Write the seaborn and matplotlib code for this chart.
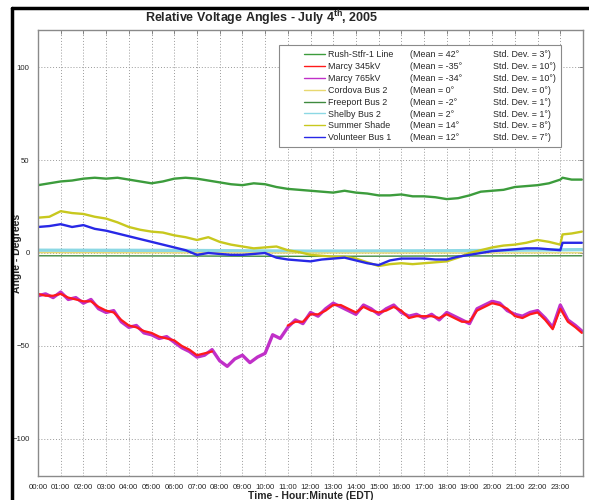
#%%
# libraries
import numpy as np
import pandas as pd
import matplotlib.pyplot as plt
import seaborn as sns
from matplotlib.lines import Line2D
from matplotlib.legend_handler import HandlerLine2D

#%%
# data (hours since midnight, angle in degrees)
hours = np.r_[np.arange(0, 23.5, 0.5), 23.1, 23.5, 23.95]

rush_stfr = [36.5, 37.5, 38.5, 39, 40, 40.5, 40, 40.5, 39.5, 38.5, 37.5, 38.5,
             40, 40.5, 40, 39, 38, 37, 36.5, 37.5, 37, 35.5, 34.5, 34,
             33.5, 33, 32.5, 33.5, 32.5, 32, 31, 31, 31.5, 30.5, 30.5, 30,
             29, 29.5, 31, 33, 33.5, 34, 35.5, 36, 36.5, 37.5, 39.5,
             40.5, 39.5, 39.5]
summer_shade = [19, 19.5, 22.5, 21.5, 21, 19.5, 18.5, 16.5, 14, 12.5, 11.5, 11,
                9.5, 8.5, 7, 8.5, 6, 4.5, 3.5, 2.5, 3, 3.5, 1.5, 0.5,
                -1, -1.5, -2, -2, -3, -5, -7, -6, -5.5, -6, -5.5, -5,
                -4.5, -2.5, 0, 1.5, 3, 4, 4.5, 5.5, 7, 6, 4.5,
                10, 10.5, 11.5]
volunteer = [14, 14.5, 15.5, 14, 15, 13, 12, 10.5, 9, 7.5, 6, 4.5,
             3, 1.5, -1, 0, -0.5, -1, -1, -0.5, 0, -2.5, -3.5, -4,
             -4.5, -3.5, -3, -2.5, -4, -5.5, -6.5, -4, -3, -3, -3, -3.5,
             -3.5, -2, -1, 0, 1, 1.5, 2, 2.5, 2.5, 2, 1.5,
             5.5, 5.5, 5.5]

flat_hours = [0, 6, 12, 18, 23.95]
cordova = [0.2, 0.1, 0.0, 0.0, 0.1]
freeport = [-1.5, -1.6, -1.8, -1.6, -1.5]
shelby = [1.5, 1.4, 1.0, 1.2, 1.8]

hours_marcy = np.r_[np.arange(72) / 3, 23.95]
marcy_765 = [-23, -22, -24, -21, -25, -24, -27, -25, -30, -32, -31, -37,
             -40, -39, -43, -44, -46, -45, -48, -51, -53, -56, -55, -52,
             -58, -61, -57, -55, -59, -56, -54, -44, -46, -40, -36, -38,
             -32, -34, -30, -27, -29, -31, -33, -28, -30, -33, -30, -28,
             -32, -34, -33, -35, -33, -36, -32, -34, -36, -38, -30, -28,
             -26, -27, -31, -33, -34, -32, -31, -35, -40, -28, -36, -39,
             -42]
marcy_345 = [-22, -23, -23, -22, -24, -25, -26, -26, -29, -31, -32, -36,
             -39, -40, -42, -43, -45, -46, -47, -50, -52, -55, -54, -53,
             np.nan, np.nan, np.nan, np.nan, np.nan, np.nan, np.nan, np.nan, np.nan,
             -39, -37, -37,
             -33, -33, -31, -28, -28, -30, -32, -29, -31, -32, -31, -29,
             -31, -35, -34, -34, -34, -35, -33, -35, -37, -37, -31, -29,
             -27, -28, -30, -34, -35, -33, -32, -36, -41, -30, -37, -40,
             -43]

names = ['Rush-Stfr-1 Line', 'Marcy 345kV', 'Marcy 765kV', 'Cordova Bus 2',
         'Freeport Bus 2', 'Shelby Bus 2', 'Summer Shade', 'Volunteer Bus 1']
means = [42, -35, -34, 0, -2, 2, 14, 12]
stds = [3, 10, 10, 0, 1, 1, 8, 7]
colors = ['#3c9c3c', '#ff1a1a', '#c030c8', '#e8d870', '#3f8a3f', '#8cd8e4',
          '#c8c81e', '#2828e6']
hour_labels = [f'{h:02d}:00' for h in range(24)]

#%%
sns.set_style('white')
plt.rcParams['font.family'] = ['Liberation Sans', 'DejaVu Sans']
plt.rcParams['mathtext.fontset'] = 'custom'
plt.rcParams['mathtext.rm'] = 'Liberation Sans'
plt.rcParams['mathtext.bf'] = 'Liberation Sans:bold'

fig = plt.figure(figsize=(5.89, 5.0), dpi=100)
ax = fig.add_axes([38 / 589, 1 - 476 / 500, 545 / 589, 446 / 500])

df_smooth = pd.DataFrame({'hour': hours, 'rush': rush_stfr,
                          'summer': summer_shade, 'volunteer': volunteer})
df_flat = pd.DataFrame({'hour': flat_hours, 'cordova': cordova,
                        'freeport': freeport, 'shelby': shelby})
df_marcy = pd.DataFrame({'hour': hours_marcy, 'm765': marcy_765, 'm345': marcy_345})
df_marcy['seg'] = df_marcy['m345'].isna().cumsum()
df_345 = df_marcy.dropna(subset=['m345'])

sns.lineplot(data=df_flat, x='hour', y='shelby', color=colors[5], lw=2.4, ax=ax)
sns.lineplot(data=df_flat, x='hour', y='cordova', color=colors[3], lw=1, ax=ax)
sns.lineplot(data=df_flat, x='hour', y='freeport', color=colors[4], lw=1, ax=ax)
sns.lineplot(data=df_smooth, x='hour', y='rush', color=colors[0], lw=1.7, ax=ax)
sns.lineplot(data=df_smooth, x='hour', y='summer', color=colors[6], lw=1.7, ax=ax)
sns.lineplot(data=df_smooth, x='hour', y='volunteer', color=colors[7], lw=1.7, ax=ax)
sns.lineplot(data=df_marcy, x='hour', y='m765', color=colors[2], lw=2.4, ax=ax)
sns.lineplot(data=df_345, x='hour', y='m345', units='seg', estimator=None,
             color=colors[1], lw=1.6, ax=ax)

ax.set_xlim(0, 24)
ax.set_ylim(-120, 120)
ax.set_xticks(range(24))
ax.set_xticklabels(hour_labels)
ax.set_yticks([-100, -50, 0, 50, 100])
ax.tick_params(direction='in', length=3, width=0.6, color='#777777',
               labelsize=5.6, top=True, right=True, pad=6)
ax.grid(True, color='#9a9a9a', lw=0.7, ls=(0, (1, 2)))
for sp in ax.spines.values():
    sp.set_color('#8a8a8a')
    sp.set_linewidth(1)

ax.set_xlabel('Time - Hour:Minute (EDT)', fontsize=7.5, fontweight='bold', labelpad=0)
ax.set_ylabel('Angle - Degrees', fontsize=7.5, fontweight='bold')
ax.yaxis.set_label_coords((22 - 38) / 545, 0.5)

fig.text(262 / 589, 1 - 18 / 500, r'Relative Voltage Angles - July 4$^{\mathbf{th}}$, 2005',
         ha='center', va='center', fontsize=9, fontweight='bold')

# legend: names / means / std devs in three columns
handles = [Line2D([], [], color=c, lw=1) for c in colors]
blank = [Line2D([], [], color='none') for _ in names]
labels = (names + [f'(Mean = {m}°' + ' ' * 6 for m in means]
          + [f'Std. Dev. = {s}°)' for s in stds])
leg = ax.legend(handles + blank + blank, labels, ncol=3, loc='upper left',
                bbox_to_anchor=((279 - 38) / 545, (476 - 45) / 446), borderaxespad=0,
                fontsize=6.4, frameon=True, fancybox=False, framealpha=1,
                edgecolor='#8a8a8a', handlelength=4.6, handletextpad=0.4,
                labelspacing=0.33, columnspacing=-3.2, borderpad=0.55,
                handler_map={Line2D: HandlerLine2D(xpad=2.3)})
leg.get_frame().set_linewidth(0.8)

# black frame of the original figure
fig.add_artist(Line2D([12 / 589, 12 / 589], [0, 1 - 8 / 500], color='black', lw=2.5))
fig.add_artist(Line2D([12 / 589, 1], [1 - 8 / 500, 1 - 8 / 500], color='black', lw=2.5))

plt.savefig('out.png', dpi=100)
